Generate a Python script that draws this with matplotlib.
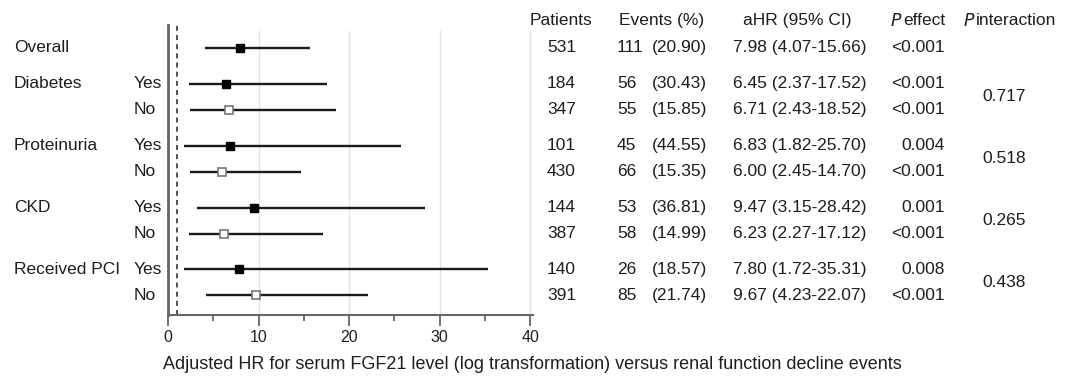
import matplotlib
matplotlib.use('Agg')
import matplotlib.pyplot as plt
from matplotlib.transforms import blended_transform_factory

plt.rcParams['font.family'] = ['Liberation Sans', 'DejaVu Sans']

# Subgroup data
groups = ['Overall', 'Diabetes', 'Proteinuria', 'CKD', 'Received PCI']
levels = ['', 'Yes', 'No', 'Yes', 'No', 'Yes', 'No', 'Yes', 'No']
group_of_row = [0, 1, 1, 2, 2, 3, 3, 4, 4]
hr = [7.98, 6.45, 6.71, 6.83, 6.00, 9.47, 6.23, 7.80, 9.67]
lo = [4.07, 2.37, 2.43, 1.82, 2.45, 3.15, 2.27, 1.72, 4.23]
hi = [15.66, 17.52, 18.52, 25.70, 14.70, 28.42, 17.12, 35.31, 22.07]
patients = [531, 184, 347, 101, 430, 144, 387, 140, 391]
events = [111, 56, 55, 45, 66, 53, 58, 26, 85]
event_pct = ['20.90', '30.43', '15.85', '44.55', '15.35', '36.81', '14.99', '18.57', '21.74']
p_effect = ['<0.001', '<0.001', '<0.001', '0.004', '<0.001', '0.001', '<0.001', '0.008', '<0.001']
p_interaction = ['', '0.717', '0.518', '0.265', '0.438']

# row positions: groups separated by an extra gap
group_gap = 1.38
ypos = []
y = 0.0
prev = None
for g in group_of_row:
    if prev is not None:
        y += group_gap if g != prev else 1.0
    ypos.append(y)
    prev = g

W, H = 1075, 376
fig = plt.figure(figsize=(W / 100, H / 100), dpi=100)
ax = fig.add_axes([168 / W, 1 - 315 / H, (533 - 168) / W, (315 - 25) / H])

txt_color = '#1e1e1e'
fs = 12.5

ax.set_xlim(0, 40.3)
ax.set_ylim(ypos[-1] + 0.75, -0.88)

for x in [10, 20, 30, 40]:
    ax.axvline(x, ymax=0.98, color='#e3e3e3', lw=1, zorder=0)
ax.axvline(1, color='#333333', lw=1.2, ls=(0, (3, 2.5)), zorder=1)

for i in range(len(hr)):
    ax.plot([lo[i], hi[i]], [ypos[i], ypos[i]], color='#1a1a1a', lw=1.7, zorder=2, solid_capstyle='butt')
    if levels[i] == 'No':
        ax.plot(hr[i], ypos[i], marker='s', ms=6.2, mfc='white', mec='#777777', mew=1.2, zorder=3)
    else:
        ax.plot(hr[i], ypos[i], marker='s', ms=6.2, mfc='black', mec='black', zorder=3)

for s in ['top', 'right']:
    ax.spines[s].set_visible(False)
ax.spines['left'].set_color('#666666')
ax.spines['left'].set_linewidth(2)
ax.spines['bottom'].set_color('#666666')
ax.spines['bottom'].set_linewidth(1.5)
ax.set_yticks([])
ax.set_xticks([0, 10, 20, 30, 40])
ax.set_xticks([5, 15, 25, 35], minor=True)
ax.tick_params(axis='x', which='major', length=8, width=1.3, color='#666666',
               labelsize=11.5, labelcolor=txt_color, pad=3)
ax.tick_params(axis='x', which='minor', length=4, width=1.3, color='#666666')
ax.set_xlabel('Adjusted HR for serum FGF21 level (log transformation) versus renal function decline events',
              fontsize=13, color=txt_color, labelpad=9)
ax.xaxis.set_label_coords(-5 / (533 - 168), -0.14)
ax.xaxis.label.set_ha('left')

tr = blended_transform_factory(fig.transFigure, ax.transData)


def fx(px):
    return px / W


def put(px, yy, s, ha='left'):
    ax.text(fx(px), yy, s, transform=tr, fontsize=fs, color=txt_color, ha=ha, va='center')


# left-side labels
first_row = {}
for i, g in enumerate(group_of_row):
    first_row.setdefault(g, i)
for g, i in first_row.items():
    put(14, ypos[i], groups[g])
for i, lev in enumerate(levels):
    if lev:
        put(134, ypos[i], lev)

# table headers
hy = -1.04
put(530, hy, 'Patients')
put(619, hy, 'Events (%)')
put(743, hy, 'aHR (95% CI)')
put(890, hy, '$\\it{P}$')
put(903, hy, 'effect')
put(963, hy, '$\\it{P}$')
put(976, hy, 'interaction')

# table rows
for i in range(len(hr)):
    yy = ypos[i]
    put(547, yy, str(patients[i]))
    put(617, yy, str(events[i]))
    put(652, yy, '(' + event_pct[i] + ')')
    put(733, yy, f'{hr[i]:.2f} ({lo[i]:.2f}-{hi[i]:.2f})')
    put(945, yy, p_effect[i], ha='right')

for g, pint in enumerate(p_interaction):
    if pint:
        rows = [i for i, gg in enumerate(group_of_row) if gg == g]
        ymid = sum(ypos[i] for i in rows) / len(rows)
        put(1004, ymid, pint, ha='center')

fig.savefig('out.png', dpi=100)
